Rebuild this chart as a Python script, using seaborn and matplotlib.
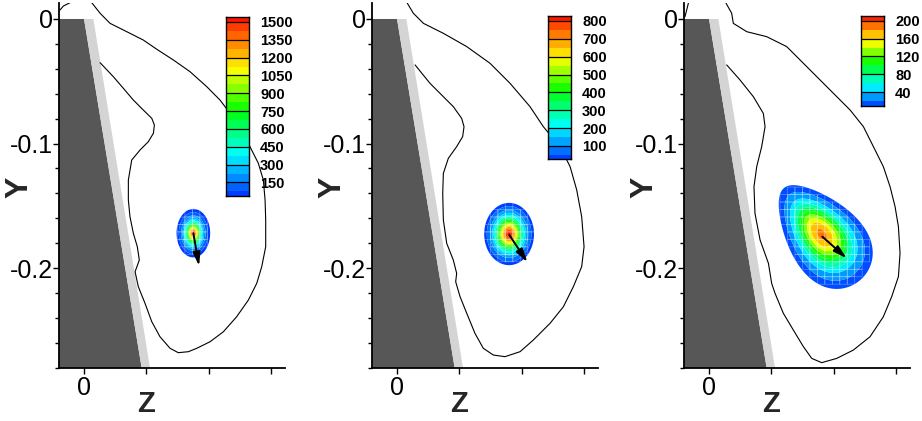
import numpy as np
import pandas as pd
import matplotlib
matplotlib.use("Agg")
import matplotlib.pyplot as plt
import seaborn as sns
from matplotlib.colors import LinearSegmentedColormap, ListedColormap
from matplotlib.ticker import MultipleLocator

sns.set_style("ticks")
plt.rcParams['font.family'] = ['Liberation Sans', 'DejaVu Sans']

# ---------------- data (lengths in thousandths of the axis unit) ----------------
cbar_labels = [
    [150, 300, 450, 600, 750, 900, 1050, 1200, 1350, 1500],
    [100, 200, 300, 400, 500, 600, 700, 800],
    [40, 80, 120, 160, 200],
]
band_step = [75, 50, 20]
band_top = [1575, 850, 220]
cbar_min = [36, 27, 8.5]
cbar_max = [1542, 828, 211]

blob_cz = [87.8, 90.0, 90.5]
blob_cy = [-172.0, -172.7, -173.0]
blob_major = [19.5, 25.0, 48.0]
blob_minor = [13.5, 20.0, 29.0]
blob_angle = [90.0, 90.0, -51.0]
blob_taper = [0.0, 0.0, 0.3]
blob_peak = [1560, 830, 185]
blob_exponent = [1.5, 1.8, 2.1]

arrow_z0 = [87.8, 90.2, 91.0]
arrow_y0 = [-172.1, -173.5, -174.8]
arrow_z1 = [92.4, 104.7, 110.6]
arrow_y1 = [-198.4, -195.4, -192.2]

outline_z = [
    [6.2, 12.9, 20.9, 34.3, 47.6, 58.4, 71.7, 85.1, 98.6, 109.2, 117.3, 125.3, 133.3, 140.0,
     144.0, 145.4, 145.9, 145.9, 142.7, 138.7, 132.0, 122.6, 111.9, 101.2, 90.5, 83.8, 75.7,
     69.1, 61.0, 54.4, 49.0, 43.6, 41.0, 44.4, 42.8, 39.6, 36.9, 35.6, 35.6, 38.3, 45.0, 51.6,
     55.7, 56.5, 54.4, 47.6, 39.6, 31.6, 23.5, 12.9],
    [8.3, 13.1, 21.2, 37.2, 56.0, 74.7, 90.8, 106.8, 117.5, 130.9, 139.0, 144.3, 148.3, 150.2,
     148.3, 141.6, 133.6, 122.9, 109.5, 98.8, 86.7, 77.4, 69.3, 62.6, 56.0, 50.6, 47.1, 47.9,
     45.2, 39.9, 37.2, 36.7, 37.2, 41.2, 47.9, 52.7, 53.8, 51.9, 45.2, 37.2, 26.5, 14.5],
    [13.7, 18.2, 19.5, 30.3, 46.3, 62.4, 75.8, 86.5, 99.9, 113.3, 124.0, 132.0, 140.0, 145.4,
     149.4, 152.1, 153.4, 152.1, 146.7, 140.0, 129.3, 115.9, 102.5, 90.5, 82.5, 75.8, 67.7,
     59.7, 53.0, 50.3, 47.7, 41.0, 36.9, 36.1, 38.3, 42.3, 45.0, 43.6, 35.6, 24.9, 14.2],
]
outline_y = [
    [13.1, 4.6, -3.5, -10.2, -16.9, -24.3, -32.9, -42.3, -54.4, -65.1, -75.7, -89.2, -102.6,
     -115.9, -129.3, -145.4, -161.4, -182.9, -199.0, -212.3, -225.7, -239.1, -251.2, -259.2,
     -264.5, -267.2, -268.0, -264.5, -255.2, -243.1, -228.4, -215.0, -203.0, -193.6, -182.9,
     -172.1, -158.8, -145.4, -129.3, -113.3, -105.2, -98.6, -91.8, -85.1, -79.8, -73.1, -65.1,
     -55.7, -46.3, -35.1],
    [12.6, 4.6, -3.5, -11.5, -22.2, -35.6, -51.7, -70.4, -86.5, -102.5, -118.6, -137.3, -158.8,
     -182.9, -198.9, -215.0, -231.1, -244.4, -257.8, -267.2, -271.2, -269.9, -264.5, -252.5,
     -236.4, -223.0, -211.0, -204.3, -193.6, -180.2, -161.4, -140.0, -124.0, -111.9, -102.5,
     -94.5, -86.5, -79.8, -70.4, -62.4, -51.7, -36.9],
    [12.6, 4.6, -3.5, -10.2, -14.2, -22.2, -35.6, -46.3, -59.7, -73.1, -86.5, -102.5, -118.6,
     -134.7, -150.7, -166.8, -188.2, -206.9, -223.0, -239.1, -255.2, -265.9, -272.6, -276.0,
     -272.6, -263.2, -249.8, -236.4, -220.3, -212.3, -196.2, -177.5, -156.1, -134.7, -118.6,
     -102.5, -86.5, -75.8, -62.4, -49.0, -36.9],
]
corner_z = [[-19.3, -16.6, -11.2], [], [-19.3, -16.6]]
corner_y = [[7.2, 10.4, 13.1], [], [1.9, 12.6]]

wall_dark_z = [-50.0, 0.0, 49.55, -50.0]
wall_dark_y = [0.0, 0.0, -300.0, -300.0]
wall_light_z = [0.0, 7.5, 56.2, 49.55]
wall_light_y = [0.0, 0.0, -300.0, -300.0]

z_ticks = [0.0, 0.05, 0.10, 0.15]
z_tick_labels = ["0", "", "", ""]
y_ticks = [0.0, -0.1, -0.2]
y_tick_labels = ["0", "-0.1", "-0.2"]

# ---------------- styling ----------------
W, H = 922, 421
panel_left_px = [59, 372, 684]
cbar_rect_px = [(226, 17, 23, 179), (548, 16, 23, 143), (861, 16, 23, 90)]
XLIM = (-0.0201, 0.1614)
YLIM = (-0.2803, 0.0130)

rainbow = LinearSegmentedColormap.from_list(
    "tec", [(0.0, (0.0, 0.15, 1.0)), (0.25, (0.0, 1.0, 1.0)), (0.48, (0.0, 1.0, 0.0)),
            (0.70, (1.0, 1.0, 0.0)), (1.0, (1.0, 0.0, 0.0))])

fig = plt.figure(figsize=(W / 100, H / 100), dpi=100)

zg = np.linspace(-0.021, 0.165, 700)
yg = np.linspace(-0.285, 0.015, 1100)
ZG, YG = np.meshgrid(zg, yg)

def make_field(Zc, Yc, i):
    cz, cy = blob_cz[i] / 1000, blob_cy[i] / 1000
    a, b = blob_major[i] / 1000, blob_minor[i] / 1000
    th = np.deg2rad(blob_angle[i])
    dz, dy = Zc - cz, Yc - cy
    u = dz * np.cos(th) + dy * np.sin(th)
    v = -dz * np.sin(th) + dy * np.cos(th)
    bt = b * (1 + blob_taper[i] * np.clip(u / a, -1, 1))
    r = np.sqrt((u / a) ** 2 + (v / bt) ** 2)
    peak = blob_peak[i]
    return peak * np.exp(-np.log(peak / cbar_min[i]) * r ** blob_exponent[i])

for i in range(3):
    ax = fig.add_axes([panel_left_px[i] / W, (H - 368) / H, 226 / W, (368 - 2.8) / H])
    ax.set_xlim(*XLIM)
    ax.set_ylim(*YLIM)

    # wall
    ax.fill(np.array(wall_dark_z) / 1000, np.array(wall_dark_y) / 1000, color="#575757", lw=0, zorder=1)
    ax.fill(np.array(wall_light_z) / 1000, np.array(wall_light_y) / 1000, color="#d4d4d4", lw=0, zorder=1)

    # contour field
    step = band_step[i]
    nb = int(round(band_top[i] / step))
    band_colors = [rainbow((k + 0.5) / nb) for k in range(nb)]
    levels = [cbar_min[i]] + [step * k for k in range(1, nb + 1)]
    F = make_field(ZG, YG, i)
    ax.contourf(ZG, YG, F, levels=levels, colors=band_colors, zorder=2, antialiased=True)

    # mesh overlay
    cs = 0.006
    ze = np.arange(-0.021, 0.165, cs)
    ye = np.arange(-0.285, 0.015, cs)
    ZE, YE = np.meshgrid(ze, ye)
    Fc = make_field(ZE[:-1, :-1] + cs / 2, YE[:-1, :-1] + cs / 2, i)
    Fm = np.ma.masked_less(Fc, cbar_min[i] * 1.6)
    ax.pcolor(ZE, YE, Fm, cmap=ListedColormap([(0, 0, 0, 0)]),
              edgecolors=(1, 1, 1, 0.35), linewidth=0.5, zorder=3)

    # outline
    df = pd.DataFrame({"z": np.array(outline_z[i]) / 1000, "y": np.array(outline_y[i]) / 1000})
    sns.lineplot(data=df, x="z", y="y", sort=False, estimator=None, color="black",
                 lw=0.8, ax=ax, zorder=4)
    if corner_z[i]:
        dfc = pd.DataFrame({"z": np.array(corner_z[i]) / 1000, "y": np.array(corner_y[i]) / 1000})
        sns.lineplot(data=dfc, x="z", y="y", sort=False, estimator=None, color="black",
                     lw=0.8, ax=ax, zorder=4)

    # arrow
    ax.annotate("", xy=(arrow_z1[i] / 1000, arrow_y1[i] / 1000),
                xytext=(arrow_z0[i] / 1000, arrow_y0[i] / 1000),
                arrowprops=dict(arrowstyle="-|>,head_length=0.8,head_width=0.22",
                                lw=1.4, color="black", shrinkA=0, shrinkB=0), zorder=5)

    # axes styling
    for s in ["top", "right"]:
        ax.spines[s].set_visible(False)
    for s in ["left", "bottom"]:
        ax.spines[s].set_linewidth(1.3)
        ax.spines[s].set_color("black")
        ax.spines[s].set_zorder(6)
    ax.set_xticks(z_ticks)
    ax.set_xticklabels(z_tick_labels)
    ax.set_yticks(y_ticks)
    ax.set_yticklabels(y_tick_labels)
    ax.yaxis.set_minor_locator(MultipleLocator(0.02))
    ax.tick_params(which="both", direction="out", color="black", width=1.0,
                   labelsize=18, labelcolor="black")
    ax.tick_params(axis="y", which="major", length=4, pad=0.5)
    ax.tick_params(axis="y", which="minor", length=3)
    ax.tick_params(axis="x", which="major", length=4, pad=1.5)
    ax.set_xlabel("")
    ax.set_ylabel("")
    ax.text((146 - 59) / 226, (368 - 404) / 365.2, "Z", transform=ax.transAxes,
            ha="center", va="center", fontsize=21, fontweight="bold")
    ax.text((19 - 59) / 226, (368 - 187) / 365.2, "Y", transform=ax.transAxes, rotation=90,
            ha="center", va="center", fontsize=23, fontweight="bold")

    # colour legend
    x0, y0, w0, h0 = cbar_rect_px[i]
    cax = fig.add_axes([x0 / W, (H - y0 - h0) / H, w0 / W, h0 / H])
    for k in range(nb):
        cax.axhspan(step * k, step * (k + 1), color=band_colors[k], lw=0)
    for lv in cbar_labels[i]:
        cax.axhline(lv, color="black", lw=0.9)
    cax.set_xlim(0, 1)
    cax.set_ylim(cbar_min[i], cbar_max[i])
    cax.set_xticks([])
    cax.yaxis.tick_right()
    cax.set_yticks(cbar_labels[i])
    cax.set_yticklabels([str(v) for v in cbar_labels[i]])
    cax.tick_params(axis="y", length=0, pad=8, labelsize=10.5, labelcolor="black")
    for lab in cax.get_yticklabels():
        lab.set_fontweight("bold")
    for s in cax.spines.values():
        s.set_visible(True)
        s.set_color("black")
        s.set_linewidth(1.0)

fig.savefig("out.png", dpi=100)
